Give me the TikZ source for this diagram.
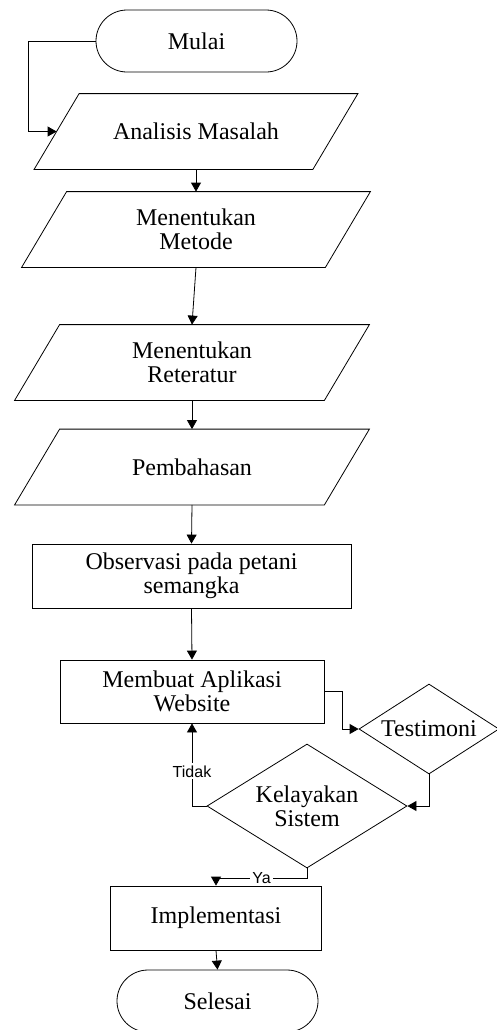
\documentclass[tikz,border=0pt]{standalone}
\usepackage{fontspec}
\setmainfont{Liberation Serif}
\newfontfamily\labelfont{Liberation Sans}
\usetikzlibrary{shapes.geometric,shapes.misc,arrows.meta}

\begin{document}
\begin{tikzpicture}[x=.5pt,y=-.5pt,
    font=\fontsize{12}{12}\selectfont,
    >={Triangle[length=4.5pt,width=5pt]},
    terminal/.style={draw,rounded rectangle,minimum width=100.5pt,minimum height=31pt,inner sep=0pt},
    io/.style={rectangle,minimum height=37.5pt,inner sep=0pt,align=center,
      append after command={\pgfextra{\draw
        ([xshift=-11.25pt]\tikzlastnode.south west) -- ([xshift=-11.25pt]\tikzlastnode.south east)
        -- ([xshift=11.25pt]\tikzlastnode.north east) -- ([xshift=11.25pt]\tikzlastnode.north west)
        -- cycle;}}},
    process/.style={draw,rectangle,minimum height=32pt,inner sep=0pt,align=center},
    decision/.style={draw,diamond,inner sep=0pt,align=center},
    tag/.style={fill=white,inner sep=1pt,font=\labelfont\fontsize{8}{8}\selectfont}]
  \useasboundingbox (0,0) rectangle (497,1030);

  % main column
  \node[terminal] (mulai) at (196.5,41) {Mulai};
  \node[io,minimum width=139pt] (analisis) at (196,131.5) {Analisis Masalah};
  \node[io,minimum width=151.5pt] (metode) at (196,229.5) {Menentukan\\Metode};
  \node[io,minimum width=154.5pt] (reteratur) at (192,362.5) {Menentukan\\Reteratur};
  \node[io,minimum width=154.5pt] (pembahasan) at (192,467) {Pembahasan};
  \node[process,minimum width=159.5pt] (observasi) at (191.5,576) {Observasi pada petani\\semangka};
  \node[process,minimum width=132pt,minimum height=31.5pt] (membuat) at (192,691.5) {Membuat Aplikasi\\Website};

  % decisions
  \node[decision,minimum width=70pt,minimum height=45pt,aspect=1.55] (testimoni) at (429,729) {Testimoni};
  \node[decision,minimum width=100pt,minimum height=62pt,aspect=1.6] (kelayakan) at (307,806) {Kelayakan\\Sistem};

  \node[process,minimum width=105.5pt] (implementasi) at (216,918) {Implementasi};
  \node[terminal] (selesai) at (217.5,1001) {Selesai};

  \draw[->] (mulai.west) -- ++(-67,0) |- (analisis.west);
  \draw[->] (analisis.south) -- (metode.north);
  \draw[->] (metode.south) -- (reteratur.north);
  \draw[->] (reteratur.south) -- (pembahasan.north);
  \draw[->] (pembahasan.south) -- (observasi.north);
  \draw[->] (observasi.south) -- (membuat.north);
  \draw[->] (membuat.east) -- ++(18,0) |- (testimoni.west);
  \draw[->] (testimoni.south) |- (kelayakan.east);
  \draw[->] (kelayakan.west) -| node[tag,pos=.71] {Tidak} (membuat.south);
  \draw[->] (kelayakan.south) -- ++(0,10) -| node[tag,pos=.25] {Ya} (implementasi.north);
  \draw[->] (implementasi.south) -- (selesai.north);
\end{tikzpicture}
\end{document}
